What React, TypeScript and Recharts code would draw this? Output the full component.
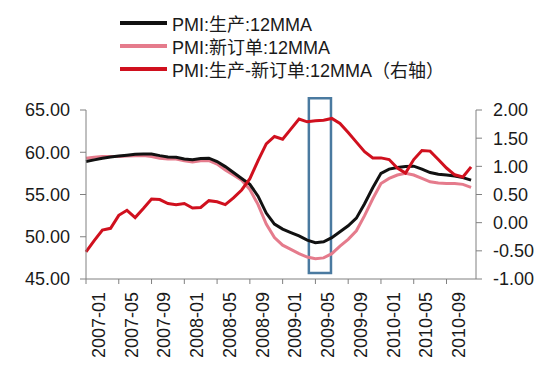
import React from "react";
import { LineChart, Line, XAxis, YAxis, ReferenceArea } from "recharts";

const months = [
  "2007-01", "2007-02", "2007-03", "2007-04", "2007-05", "2007-06", "2007-07", "2007-08", "2007-09", "2007-10", "2007-11", "2007-12",
  "2008-01", "2008-02", "2008-03", "2008-04", "2008-05", "2008-06", "2008-07", "2008-08", "2008-09", "2008-10", "2008-11", "2008-12",
  "2009-01", "2009-02", "2009-03", "2009-04", "2009-05", "2009-06", "2009-07", "2009-08", "2009-09", "2009-10", "2009-11", "2009-12",
  "2010-01", "2010-02", "2010-03", "2010-04", "2010-05", "2010-06", "2010-07", "2010-08", "2010-09", "2010-10", "2010-11", "2010-12",
];

const production = [
  58.9, 59.1, 59.3, 59.45, 59.55, 59.65, 59.75, 59.8, 59.8, 59.6, 59.45, 59.4,
  59.2, 59.1, 59.25, 59.3, 58.9, 58.3, 57.6, 56.9, 56.2, 54.8, 52.8, 51.5,
  50.9, 50.5, 50.1, 49.6, 49.3, 49.4, 49.9, 50.6, 51.3, 52.2, 53.9, 55.8,
  57.5, 58.0, 58.2, 58.3, 58.35, 58.0, 57.6, 57.4, 57.3, 57.2, 57.0, 56.7,
];

const newOrders = [
  59.3, 59.4, 59.5, 59.5, 59.5, 59.55, 59.6, 59.6, 59.5, 59.3, 59.2, 59.2,
  59.0, 58.85, 59.0, 59.0, 58.6, 57.9, 57.3, 56.7, 55.6, 53.8, 51.5, 49.9,
  49.0, 48.5, 48.0, 47.6, 47.4, 47.5, 48.0, 48.9, 49.7, 50.7, 52.5, 54.5,
  56.3, 56.9, 57.3, 57.5, 57.3, 56.9, 56.5, 56.35, 56.3, 56.3, 56.2, 55.85,
];

const spread = [
  -0.52, -0.32, -0.13, -0.1, 0.13, 0.22, 0.09, 0.25, 0.42, 0.41, 0.34, 0.32,
  0.34, 0.26, 0.27, 0.39, 0.37, 0.32, 0.44, 0.58, 0.78, 1.1, 1.4, 1.53,
  1.48, 1.66, 1.84, 1.79, 1.81, 1.82, 1.85, 1.76, 1.6, 1.43, 1.26, 1.15,
  1.15, 1.12, 0.97, 0.88, 1.12, 1.28, 1.27, 1.12, 0.97, 0.85, 0.81, 0.99,
];

const xTicks = [0, 4, 8, 12, 16, 20, 24, 28, 32, 36, 40, 44];
const leftTicks = [45, 50, 55, 60, 65];
const rightTicks = [-1, -0.5, 0, 0.5, 1, 1.5, 2];

const seriesNames = ["PMI:生产:12MMA", "PMI:新订单:12MMA", "PMI:生产-新订单:12MMA（右轴）"];
const seriesColors = ["#111111", "#e57b8c", "#d0101e"];

const data = months.map((m, i) => ({
  i,
  month: m,
  production: production[i],
  newOrders: newOrders[i],
  spread: spread[i],
}));

const FONT = '"Liberation Sans", Arial, "Noto Sans CJK SC", sans-serif';
const AXIS = "#808080";
const TEXT = "#1a1a1a";

// legend drawn as plain html so it doesn't eat into the plot area
const LegendBox = () => (
  <div style={{ position: "absolute", left: 120, top: 11, fontFamily: FONT, fontSize: 18, color: TEXT }}>
    {seriesNames.map((n, k) => (
      <div key={n} style={{ display: "flex", alignItems: "center", height: 23 }}>
        <div style={{ width: 47, height: 4, background: seriesColors[k], marginRight: 5 }} />
        <span>{n}</span>
      </div>
    ))}
  </div>
);

export default function App() {
  return (
    <div style={{ position: "absolute", left: 0, top: 0, width: 552, height: 376, background: "#fff" }}>
      <LineChart width={552} height={376} data={data} margin={{ top: 110, right: 0, bottom: 0, left: 0 }}>
        <XAxis
          dataKey="i"
          type="number"
          domain={[0, 47.6]}
          ticks={xTicks}
          tickFormatter={(v) => months[v]}
          interval={0}
          height={97}
          angle={-90}
          textAnchor="end"
          tickSize={5}
          tickMargin={8}
          stroke={AXIS}
          tick={{ fill: TEXT, fontSize: 18, fontFamily: FONT, dominantBaseline: "central" }}
        />
        <YAxis
          yAxisId="left"
          domain={[45, 65]}
          ticks={leftTicks}
          interval={0}
          width={86}
          tickSize={6}
          tickMargin={10}
          tickFormatter={(v) => v.toFixed(2)}
          stroke={AXIS}
          tick={{ fill: TEXT, fontSize: 18, fontFamily: FONT }}
        />
        <YAxis
          yAxisId="right"
          orientation="right"
          domain={[-1, 2]}
          ticks={rightTicks}
          interval={0}
          width={76}
          tickSize={6}
          tickMargin={11}
          tickFormatter={(v) => v.toFixed(2)}
          stroke={AXIS}
          tick={{ fill: TEXT, fontSize: 18, fontFamily: FONT }}
        />
        <Line yAxisId="left" dataKey="newOrders" stroke={seriesColors[1]} strokeWidth={3} dot={false} isAnimationActive={false} />
        <Line yAxisId="left" dataKey="production" stroke={seriesColors[0]} strokeWidth={3} dot={false} isAnimationActive={false} />
        <Line yAxisId="right" dataKey="spread" stroke={seriesColors[2]} strokeWidth={3} dot={false} isAnimationActive={false} />
        <ReferenceArea
          yAxisId="left"
          x1={27.2}
          x2={29.9}
          y1={45.7}
          y2={66.4}
          ifOverflow="visible"
          fill="none"
          fillOpacity={0}
          stroke="#4a7aa0"
          strokeWidth={2.5}
        />
      </LineChart>
      <LegendBox />
    </div>
  );
}
